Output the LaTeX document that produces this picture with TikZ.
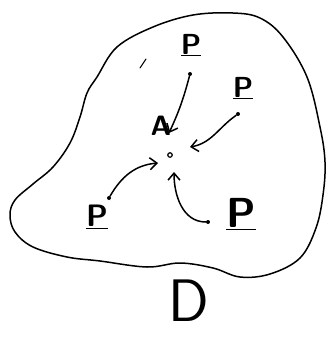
\documentclass[tikz,border=0pt]{standalone}
\usepackage{fontspec}
\usetikzlibrary{arrows.meta}
\begin{document}
\begin{tikzpicture}[x=1pt,y=-1pt,
  ink/.style={line width=1.5pt,line cap=round,line join=round},
  lbl/.style={inner sep=0pt},
  pt/.style={circle,fill=black,inner sep=0pt,minimum size=4pt},
  arr/.style={ink,-{Straight Barb[length=7pt,width=12pt]}}]
\useasboundingbox (0,0) rectangle (334,338);
% region outline
\draw[ink] plot[smooth cycle,tension=0.6] coordinates {
 (97,77) (117,47) (153,27) (193,15) (233,13) (260,18) (283,37) (307,77)
 (320,127) (325,162) (323,195) (316,228) (300,258) (270,274) (240,277)
 (213,268) (180,263) (147,267) (100,261) (67,257) (33,247) (15,232)
 (10,215) (15,200) (33,184) (53,167) (70,143) (80,117) (87,93)};
% stray mark
\draw[ink,line width=1pt] (140,68) -- (146,59);
% labels
\node[lbl,font=\sffamily\bfseries\fontsize{29}{29}\selectfont] (p1) at (191,45) {\underline{P}};
\node[lbl,font=\sffamily\bfseries\fontsize{29}{29}\selectfont] (p2) at (243,88) {\underline{P}};
\node[lbl,font=\sffamily\bfseries\fontsize{31}{31}\selectfont] (p3) at (97,217) {\underline{P}};
\node[lbl,font=\sffamily\bfseries\fontsize{42}{42}\selectfont] (p4) at (241,214) {\underline{P}};
\node[lbl,font=\sffamily\bfseries\fontsize{28}{28}\selectfont] (a) at (161,126) {A};
\node[lbl,font=\sffamily\fontsize{60}{60}\selectfont] (d) at (189,301) {D};
% points
\node[circle,draw,line width=1.2pt,inner sep=0pt,minimum size=4.5pt] (c) at (170,155) {};
\node[pt] (d1) at (190,74) {};
\node[pt] (d2) at (238,114) {};
\node[pt] (d3) at (109,198) {};
\node[pt] (d4) at (208,222) {};
% arrows
\draw[arr] (d1) to[bend left=5] (169,133);
\draw[arr] (d2) to[out=215,in=10] (190,147);
\draw[arr] (d3) to[out=60,in=185] (158,163);
\draw[arr] (d4) to[out=180,in=270] (174,172);
\end{tikzpicture}
\end{document}
